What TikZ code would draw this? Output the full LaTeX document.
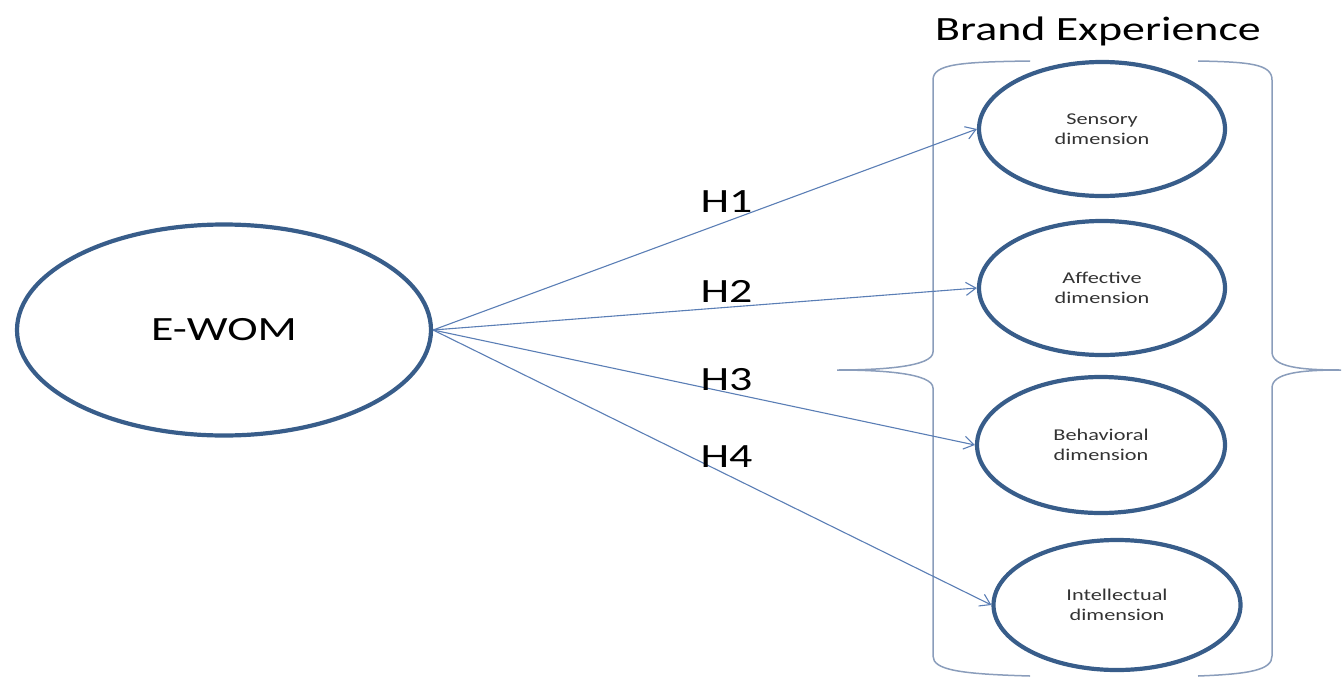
\documentclass[tikz,border=0pt]{standalone}
\usepackage{fontspec}
\setmainfont{Carlito}[FakeStretch=1.35]
\usetikzlibrary{arrows.meta,shapes.geometric}
\definecolor{rimblue}{HTML}{385D8A}
\definecolor{arrowblue}{HTML}{5A7EB5}
\definecolor{braceblue}{HTML}{8A9DBB}
\definecolor{smalltext}{HTML}{333333}

\begin{document}
\begin{tikzpicture}[x=1pt,y=-1pt,
  construct/.style={ellipse, draw=rimblue, line width=4.2pt, inner sep=0pt},
  bigtext/.style={font=\fontsize{34}{40}\selectfont},
  dimtext/.style={construct, font=\fontsize{16.5}{20}\selectfont, text=smalltext, align=center,
                  minimum width=246pt, minimum height=134pt},
  link/.style={draw=arrowblue, line width=1.1pt, -{Straight Barb[length=10pt,width=13pt]}},
  bracket/.style={draw=braceblue, line width=1.5pt}]
\useasboundingbox (0,0) rectangle (1343,677);

% brackets grouping the four dimensions
\draw[bracket] (1030,61) .. controls (960,62) and (933,64) .. (933,80)
  -- (933,352) .. controls (933,367) and (880,370) .. (837,370)
  .. controls (880,370) and (933,373) .. (933,388)
  -- (933,656) .. controls (933,670) and (960,674) .. (1030,676);
\draw[bracket] (1198,61) .. controls (1250,62) and (1272,64) .. (1272,80)
  -- (1272,352) .. controls (1272,367) and (1300,370) .. (1341,370)
  .. controls (1300,370) and (1272,373) .. (1272,388)
  -- (1272,656) .. controls (1272,670) and (1250,674) .. (1198,676);

% title
\node[bigtext, anchor=base] (title) at (1098,41) {Brand Experience};

% constructs
\node[construct, bigtext, minimum width=414pt, minimum height=211pt] (ewom) at (224,330) {E-WOM};
\node[dimtext] (sens) at (1102,129) {Sensory\\dimension};
\node[dimtext] (affe) at (1102,288) {Affective\\dimension};
\node[dimtext, minimum width=248pt, minimum height=136pt] (beha) at (1101,445) {Behavioral\\dimension};
\node[dimtext, minimum width=247pt, minimum height=130pt] (inte) at (1117,605) {Intellectual\\dimension};

% hypotheses
\draw[link] (ewom.east) -- (sens.west);
\draw[link] (ewom.east) -- (affe.west);
\draw[link] (ewom.east) -- (beha.west);
\draw[link] (ewom.east) -- (inte.west);

\node[bigtext, anchor=base west] (h1) at (697,212) {H1};
\node[bigtext, anchor=base west] (h2) at (697,302) {H2};
\node[bigtext, anchor=base west] (h3) at (697,390) {H3};
\node[bigtext, anchor=base west] (h4) at (697,467) {H4};
\end{tikzpicture}
\end{document}
